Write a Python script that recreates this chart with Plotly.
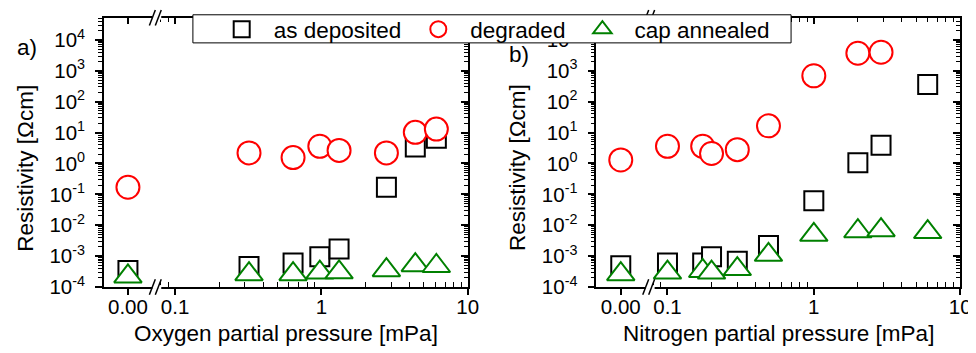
import plotly.graph_objects as go

# ---------------- data ----------------
o2_pressure = [0, 0.32, 0.64, 0.975, 1.32, 2.78, 4.38, 6.1]
o2_as_deposited = [3.4e-4, 4.6e-4, 6.0e-4, 9.6e-4, 1.7e-3, 0.17, 3.4, 6.6]
o2_degraded = [0.17, 2.2, 1.55, 3.6, 2.65, 2.2, 10.2, 13.0]
o2_cap_annealed = [2.2e-4, 2.6e-4, 2.6e-4, 2.95e-4, 3.0e-4, 3.5e-4, 5.1e-4, 4.8e-4]

n2_pressure = [0, 0.1, 0.174, 0.2, 0.3, 0.49, 1.0, 2.0, 2.88, 6.0]
n2_as_deposited = [4.9e-4, 6.0e-4, 6.0e-4, 9.5e-4, 6.8e-4, 2.2e-3, 0.062, 1.05, 3.9, 360]
n2_degraded = [1.3, 3.6, 3.6, 2.1, 2.8, 16.5, 690, 3700, 4000, None]
n2_cap_annealed = [2.6e-4, 2.95e-4, 3.3e-4, 2.95e-4, 3.8e-4, 1.1e-3, 4.9e-3, 6.4e-3, 6.9e-3, 6.0e-3]

series_names = ["as deposited", "degraded", "cap annealed"]
y_tickvals = [1e-4, 1e-3, 1e-2, 1e-1, 1e0, 1e1, 1e2, 1e3, 1e4]
y_ticktext = ["10<sup>-4</sup>", "10<sup>-3</sup>", "10<sup>-2</sup>", "10<sup>-1</sup>",
              "10<sup>0</sup>", "10<sup>1</sup>", "10<sup>2</sup>", "10<sup>3</sup>", "10<sup>4</sup>"]
x_tickvals = [0.1, 1, 10]
x_ticktext = ["0.1", "1", "10"]
zero_ticktext = ["0.00"]
x_titles = ["Oxygen partial pressure [mPa]", "Nitrogen partial pressure [mPa]"]
y_title = "Resistivity [\u03a9cm]"
panel_labels = ["a)", "b)"]

# ---------------- layout geometry (pixels) ----------------
W, H = 976, 353
FONT = "Arial, 'Liberation Sans', sans-serif"
TICK_SIZE = 20.5
TEXT_SIZE = 22.5
y_top_px, y_bot_px = 10, 288
panels = [
    dict(left=97, brk=151, right=465),
    dict(left=595, brk=650, right=963),
]
zero_range = [-0.45, 0.55]
log_range_hi = 1.0
px_per_decade = 148.0

def px2x(p):
    return p / W

def px2y(p):
    return 1 - p / H

styles = [
    dict(symbol="square", size=19, color="black"),
    dict(symbol="circle", size=23, color="red"),
    dict(symbol="triangle-up", size=24, color="green"),
]

minor_x = [m * 10 ** k for k in (-2, -1, 0) for m in range(2, 10)]
minor_y = [m * 10 ** k for k in range(-4, 5) for m in range(2, 10)]

fig = go.Figure()
layout = dict(
    width=W, height=H,
    margin=dict(l=0, r=0, t=0, b=0),
    paper_bgcolor="white", plot_bgcolor="white",
    font=dict(family=FONT, size=TICK_SIZE, color="black"),
    showlegend=True,
)

datasets = [
    (o2_pressure, [o2_as_deposited, o2_degraded, o2_cap_annealed]),
    (n2_pressure, [n2_as_deposited, n2_degraded, n2_cap_annealed]),
]

annotations = []
shapes = []

for p, (pan, (xs, ys_list)) in enumerate(zip(panels, datasets)):
    base = p * 4
    xz, xl, xzt, xlt = [f"x{base + i + 1}" if base + i > 0 else "x" for i in range(4)]
    yl = "y" if p == 0 else f"y{2 * p + 1}"
    yr = f"y{2 * p + 2}"
    key = lambda a: a.replace("x", "xaxis").replace("y", "yaxis")

    lo = log_range_hi - (pan["right"] - pan["brk"]) / px_per_decade
    common = dict(showline=True, linecolor="black", linewidth=1.5, showgrid=False,
                  zeroline=False, fixedrange=True, tickcolor="black", tickwidth=1.5,
                  tickfont=dict(family=FONT, size=TICK_SIZE, color="black"))
    ydom = [px2y(y_bot_px), px2y(y_top_px)]
    zdom = [px2x(pan["left"]), px2x(pan["brk"])]
    ldom = [px2x(pan["brk"]), px2x(pan["right"])]

    layout[key(xz)] = dict(common, domain=zdom, range=zero_range, anchor=yl,
                           tickmode="array", tickvals=[0], ticktext=zero_ticktext,
                           ticks="outside", ticklen=6, ticklabelstandoff=-5)
    layout[key(xl)] = dict(common, type="log", domain=ldom, range=[lo, log_range_hi], anchor=yl,
                           tickmode="array", tickvals=x_tickvals, ticktext=x_ticktext,
                           ticks="outside", ticklen=6, ticklabelstandoff=-5,
                           minor=dict(tickmode="array", tickvals=minor_x, ticks="inside",
                                      ticklen=5, tickcolor="black", tickwidth=1.2))
    layout[key(xzt)] = dict(common, range=zero_range, overlaying=xz, side="top", anchor=yl,
                            tickmode="array", tickvals=[0], ticks="inside", ticklen=7,
                            showticklabels=False)
    layout[key(xlt)] = dict(common, type="log", range=[lo, log_range_hi], overlaying=xl,
                            side="top", anchor=yl,
                            tickmode="array", tickvals=x_tickvals, ticks="inside", ticklen=7,
                            showticklabels=False,
                            minor=dict(tickmode="array", tickvals=minor_x, ticks="inside",
                                       ticklen=5, tickcolor="black", tickwidth=1.2))
    yrange = [-4, 4.72]
    layout[key(yl)] = dict(common, type="log", domain=ydom, range=yrange, anchor=xz,
                           tickmode="array", tickvals=y_tickvals, ticktext=y_ticktext,
                           ticks="outside", ticklen=7, ticklabelstandoff=6,
                           minor=dict(tickmode="array", tickvals=minor_y, ticks="outside",
                                      ticklen=4, tickcolor="black", tickwidth=1.2))
    layout[key(yr)] = dict(common, type="log", range=yrange, overlaying=yl, side="right", anchor=xl,
                           tickmode="array", tickvals=y_tickvals, ticks="inside", ticklen=7,
                           showticklabels=False,
                           minor=dict(tickmode="array", tickvals=minor_y, ticks="inside",
                                      ticklen=4, tickcolor="black", tickwidth=1.2))

    # data traces: zero pressure on the short linear segment, rest on the log axis
    for s, (name, ys, st) in enumerate(zip(series_names, ys_list, styles)):
        zx = [x for x, y in zip(xs, ys) if x == 0 and y is not None]
        zy = [y for x, y in zip(xs, ys) if x == 0 and y is not None]
        lx = [x for x, y in zip(xs, ys) if x > 0 and y is not None]
        ly = [y for x, y in zip(xs, ys) if x > 0 and y is not None]
        marker = dict(symbol=st["symbol"], size=st["size"], color="white",
                      line=dict(color=st["color"], width=2))
        fig.add_trace(go.Scatter(x=lx, y=ly, xaxis=xl, yaxis=yl, mode="markers", name=name,
                                 marker=marker, legendgroup=name, showlegend=(p == 0),
                                 cliponaxis=False, hoverinfo="skip"))
        fig.add_trace(go.Scatter(x=zx, y=zy, xaxis=xz, yaxis=yl, mode="markers", name=name,
                                 marker=marker, legendgroup=name, showlegend=False,
                                 cliponaxis=False, hoverinfo="skip"))
    # empty traces to register the mirror axes
    for xa, ya in ((xzt, yl), (xlt, yl), (xl, yr)):
        fig.add_trace(go.Scatter(x=[], y=[], xaxis=xa, yaxis=ya, showlegend=False,
                                 hoverinfo="skip"))

    # axis titles & panel label
    annotations.append(dict(text=x_titles[p], xref="paper", yref="paper",
                            x=px2x((pan["left"] + pan["right"]) / 2), y=px2y(336),
                            xanchor="center", yanchor="middle", showarrow=False,
                            font=dict(family=FONT, size=TEXT_SIZE, color="black")))
    annotations.append(dict(text=y_title, xref="paper", yref="paper",
                            x=px2x(pan["left"] - 79), y=px2y(165), textangle=-90,
                            xanchor="center", yanchor="middle", showarrow=False,
                            font=dict(family=FONT, size=TEXT_SIZE, color="black")))
    annotations.append(dict(text=panel_labels[p], xref="paper", yref="paper",
                            x=px2x(pan["left"] - 78), y=px2y(41 if p == 0 else 48),
                            xanchor="center", yanchor="middle", showarrow=False,
                            font=dict(family=FONT, size=TEXT_SIZE, color="black")))

    # axis break marks "//" on bottom and top axes
    for ypx in (y_bot_px, y_top_px):
        bx = pan["brk"]
        shapes.append(dict(type="rect", xref="paper", yref="paper", layer="above",
                           x0=px2x(bx - 5), x1=px2x(bx + 4), y0=px2y(ypx + 2), y1=px2y(ypx - 2),
                           fillcolor="white", line=dict(width=0)))
        for off in (-5, 1):
            shapes.append(dict(type="line", xref="paper", yref="paper", layer="above",
                               x0=px2x(bx + off - 3), y0=px2y(ypx + 8),
                               x1=px2x(bx + off + 3), y1=px2y(ypx - 8),
                               line=dict(color="black", width=1.5)))

# legend frame
shapes.append(dict(type="rect", xref="paper", yref="paper", layer="above",
                   x0=px2x(187), x1=px2x(792), y0=px2y(36), y1=px2y(7),
                   fillcolor="white", line=dict(color="black", width=1)))

layout["annotations"] = annotations
layout["shapes"] = shapes
layout["legend"] = dict(orientation="h", x=px2x(204), xanchor="left", y=px2y(22), yanchor="middle",
                        bgcolor="rgba(0,0,0,0)", borderwidth=0, itemwidth=54,
                        font=dict(family=FONT, size=TEXT_SIZE, color="black"),
                        itemclick=False, itemdoubleclick=False)
fig.update_layout(**layout)
fig.write_html("out.html")
